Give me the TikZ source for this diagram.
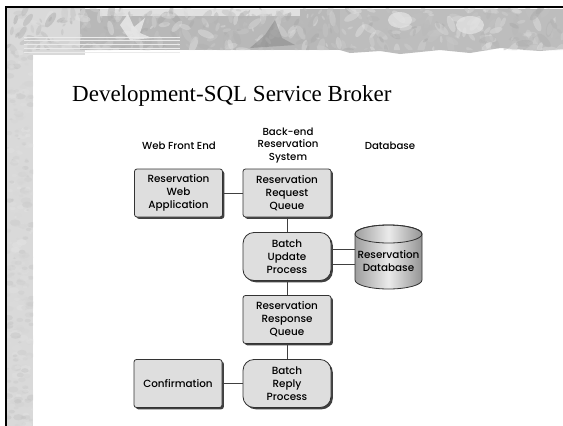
\documentclass[tikz,border=0pt]{standalone}
\usepackage{fontspec}
\setmainfont{Liberation Serif}
\newfontfamily\futura{Poppins}[UprightFont=* Medium]
\usetikzlibrary{shapes.geometric,shadows,calc}
\begin{document}
\begin{tikzpicture}[x=1pt,y=-1pt,
  box/.style={draw=black!80, line width=0.8pt, fill=black!13, rounded corners=2.5pt,
    minimum width=88pt, minimum height=48pt, align=center, inner sep=1pt,
    font=\futura\fontsize{10.4}{13}\selectfont,
    drop shadow={shadow xshift=1.8pt, shadow yshift=-1.8pt, fill=black!75, opacity=1}},
  proc/.style={box, rounded corners=11pt},
  hdr/.style={align=center, font=\futura\fontsize{10.2}{12.5}\selectfont},
  link/.style={draw=black!75, line width=0.8pt}]
\useasboundingbox (0,0) rectangle (563,426);
\fill[white] (0,0) rectangle (563,426);
% ---- decorative background ----
\fill[black!15] (7,8) rectangle (33,426);
\fill[black!15] (7,8) rectangle (85,55);
\fill[black!28] (80,9) rectangle (345,50);
\fill[black!12] (100,9) rectangle (300,16);
\fill[black!26] (340,9) -- (563,9) -- (563,49) -- (540,51) -- (500,48) -- (470,53)
  -- (440,50) -- (400,54) -- (380,51) -- (350,53) -- (340,50) -- cycle;
\begin{scope}
  \clip (7,8) rectangle (33,426) (7,8) rectangle (563,50);
  \pgfmathsetseed{11}
  \foreach \i in {1,...,420}{
    \pgfmathsetmacro\xx{7+556*rnd}
    \pgfmathsetmacro\yy{8+44*rnd}
    \pgfmathsetmacro\rr{2+7*rnd}
    \pgfmathsetmacro\ang{180*rnd}
    \pgfmathsetmacro\gg{10+25*rnd}
    \fill[black!\gg, opacity=0.45, rotate around={\ang:(\xx,\yy)}]
      (\xx,\yy) ellipse [x radius=\rr pt, y radius=0.4*\rr pt];
  }
  \foreach \i in {1,...,300}{
    \pgfmathsetmacro\xx{7+26*rnd}
    \pgfmathsetmacro\yy{50+376*rnd}
    \pgfmathsetmacro\rr{1.5+4*rnd}
    \pgfmathsetmacro\gg{10+14*rnd}
    \fill[black!\gg, opacity=0.45] (\xx,\yy) ellipse [x radius=\rr pt, y radius=0.6*\rr pt];
  }
\end{scope}
% leafy highlights
\fill[black!8, opacity=0.8] (120,25) -- (128,14) -- (134,27) -- (145,18) -- (140,33) -- (152,38) -- (130,40) -- cycle;
\fill[black!45, opacity=0.6] (250,48) -- (265,35) -- (275,20) -- (282,38) -- (295,45) -- cycle;
\fill[black!10, opacity=0.7] (400,20) ellipse [x radius=12pt, y radius=8pt];
\fill[black!10, opacity=0.7] (470,25) ellipse [x radius=14pt, y radius=9pt];
% horizontal lines
\foreach \yy in {37,40,44,48,52}
  \draw[black!8, line width=0.9pt] (24,\yy) -- (180,\yy);
% frame
\draw[black, line width=2pt] (6,426) -- (6,7) -- (563,7);
% ---- title ----
\node[anchor=base west, font=\fontsize{23}{27}\selectfont, inner sep=0pt] (title) at (72,101) {Development-SQL Service Broker};
% ---- headers ----
\node[hdr] (h1) at (179,146) {Web Front End};
\node[hdr] (h2) at (288,145.5) {Back-end\\Reservation\\System};
\node[hdr] (h3) at (390,146) {Database};
% ---- database cylinder ----
\shade[left color=black!38, right color=black!42, middle color=black!8, draw=black!80, line width=0.8pt]
  (355,234) -- (355,280) arc [start angle=180, end angle=360, x radius=33.5pt, y radius=9pt]
  -- (422,234) arc [start angle=0, end angle=180, x radius=33.5pt, y radius=9pt] -- cycle;
\draw[black!80, line width=0.8pt] (388.5,234) ellipse [x radius=33.5pt, y radius=9pt];
\node[align=center, font=\futura\fontsize{10.4}{13}\selectfont] (db) at (388.5,261) {Reservation\\Database};
\coordinate (dbw) at (355,256.5);
% ---- boxes ----
\node[box] (web) at (178.5,193) {Reservation\\Web\\Application};
\node[box] (req) at (287,193) {Reservation\\Request\\Queue};
\node[proc] (upd) at (287,256.5) {Batch\\Update\\Process};
\node[box] (resp) at (287,319.5) {Reservation\\Response\\Queue};
\node[proc] (rep) at (287,383.5) {Batch\\Reply\\Process};
\node[box] (conf) at (178,383.5) {Confirmation};
% ---- connectors ----
\draw[link] (web) -- (req);
\draw[link] (req) -- (upd);
\draw[link] (upd) -- (resp);
\draw[link] (resp) -- (rep);
\draw[link] (conf) -- (rep);
\draw[link] ([yshift=7.5pt]upd.east) -- ([yshift=7.5pt]upd.east -| dbw);
\draw[link] ([yshift=-7.5pt]upd.east) -- ([yshift=-7.5pt]upd.east -| dbw);
\end{tikzpicture}
\end{document}
